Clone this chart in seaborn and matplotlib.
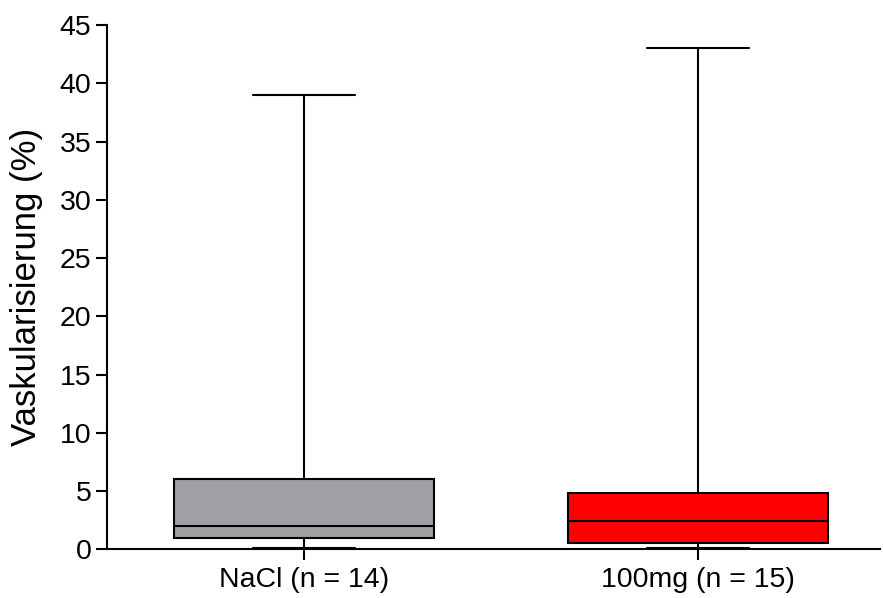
import numpy as np
import pandas as pd
import matplotlib
matplotlib.use("Agg")
import matplotlib.pyplot as plt
import seaborn as sns

# five-number summaries (min, Q1, median, Q3, max)
groups = ["NaCl (n = 14)", "100mg (n = 15)"]
nacl = [0.15, 1.0, 2.0, 6.0, 39.0]
mg100 = [0.15, 0.5, 2.4, 4.8, 43.0]
colors = ["#A09FA4", "#FF0000"]

df = pd.DataFrame({
    "group": [groups[0]] * len(nacl) + [groups[1]] * len(mg100),
    "value": nacl + mg100,
})

sns.set_style("ticks")
plt.rcParams["font.family"] = ["Liberation Sans", "DejaVu Sans"]

fig = plt.figure(figsize=(8.83, 5.98), dpi=100)
ax = fig.add_axes([0.121, 0.0815, 0.876, 0.8765])

lw = 1.5
sns.boxplot(data=df, x="group", y="value", hue="group", palette=colors,
            whis=(0, 100), width=0.66, linewidth=lw, linecolor="black",
            saturation=1, legend=False, ax=ax, capwidths=0.26,
            medianprops=dict(color="black", linewidth=lw),
            whiskerprops=dict(color="black", linewidth=lw),
            capprops=dict(color="black", linewidth=lw))

ax.set_xlim(-0.5, 1.462)
ax.set_ylim(0, 45)
ax.set_yticks(np.arange(0, 46, 5))
ax.set_xlabel("")
ax.set_ylabel("Vaskularisierung (%)", fontsize=25, labelpad=12, color="black")
ax.tick_params(axis="both", labelsize=20.5, length=8, width=lw,
               colors="black", pad=3)
ax.tick_params(axis="x", pad=5)
for s in ["left", "bottom"]:
    ax.spines[s].set_linewidth(lw)
    ax.spines[s].set_color("black")
sns.despine(ax=ax)

fig.savefig("out.png", dpi=100)
